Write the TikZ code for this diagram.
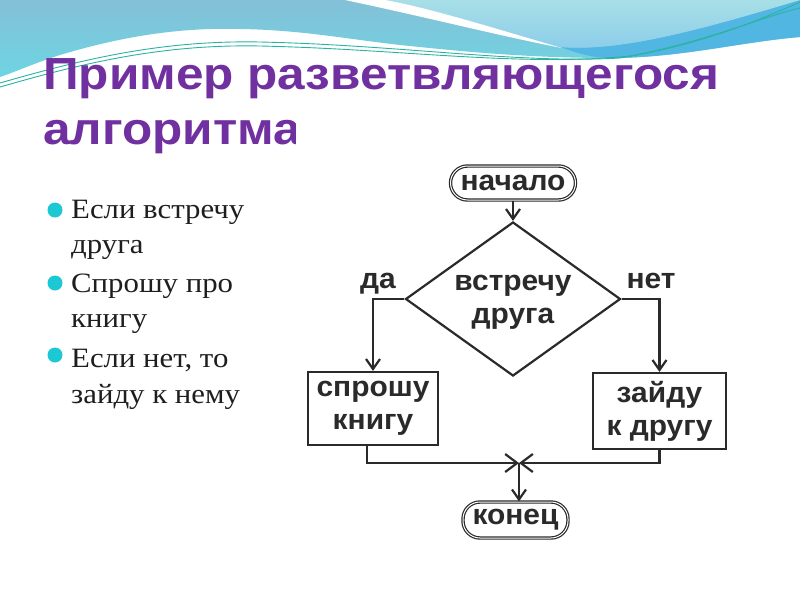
\documentclass[tikz,border=0pt]{standalone}
\usepackage{fontspec}
\setmainfont[FakeStretch=1.1]{Liberation Serif}
\newfontfamily\titlefont[FakeStretch=1.1]{Liberation Sans}
\newfontfamily\flowfont[FakeStretch=1.05]{Liberation Sans}
\usetikzlibrary{shapes.geometric,arrows.meta}
\definecolor{titlepurple}{HTML}{7030A0}
\definecolor{bulletc}{HTML}{1CC8D4}
\definecolor{bluetop}{HTML}{84C0D8}
\definecolor{bluebot}{HTML}{6DD5E2}
\definecolor{lighttop}{HTML}{A8DFE7}
\definecolor{lightbot}{HTML}{8ACCEA}
\definecolor{darkband}{HTML}{52B6E2}
\definecolor{tealline}{HTML}{2AB3A2}
\definecolor{fcgray}{HTML}{2A2A2A}
\definecolor{bodytext}{HTML}{1E1E1E}
\tikzset{
  titletext/.style={anchor=base west, inner sep=0, text=titlepurple,
    font=\titlefont\bfseries\fontsize{45}{50}\selectfont},
  bodyline/.style={anchor=base west, inner sep=0, text=bodytext,
    font=\fontsize{28}{34}\selectfont},
  bulletdot/.style={circle, fill=bulletc, minimum size=15pt, inner sep=0},
  flowtext/.style={text=fcgray, font=\flowfont\bfseries\fontsize{28.5}{33}\selectfont},
  fline/.style={draw=fcgray, line width=2.2pt},
  term/.style={flowtext, rectangle, rounded corners=17pt, draw=fcgray,
    line width=1.2pt, double=white, double distance=1pt, inner sep=0},
  proc/.style={flowtext, fline, rectangle, align=center, inner sep=0},
  conn/.style={fline, -{Straight Barb[length=10pt,width=14pt]}},
  joinarrow/.style={fline, -{Straight Barb[length=12pt,width=18pt]}},
}
\begin{document}
\begin{tikzpicture}[x=1pt,y=-1pt]
\useasboundingbox (0,0) rectangle (800,600);
\fill[white] (0,0) rectangle (800,600);
% top decoration
\shade[top color=bluetop, bottom color=bluebot]
  (0,0) -- (800,0) -- (800,37)
  .. controls (740,42) and (680,58) .. (610,58)
  .. controls (520,58) and (450,50) .. (400,45)
  .. controls (340,38) and (300,30) .. (240,29)
  .. controls (170,27) and (110,40) .. (60,55)
  .. controls (35,63) and (15,72) .. (0,77) -- cycle;
\fill[darkband]
  (560,47) .. controls (620,52) and (700,30) .. (800,0)
  -- (800,37) .. controls (740,42) and (680,58) .. (610,58)
  .. controls (590,58) and (575,52) .. (560,47) -- cycle;
\shade[top color=lighttop, bottom color=lightbot]
  (350,0) .. controls (430,14) and (500,33) .. (560,47)
  .. controls (620,52) and (700,30) .. (800,0) -- cycle;
\fill[white]
  (345,0) .. controls (430,18) and (500,36) .. (562,48)
  .. controls (500,30) and (430,8) .. (385,0) -- cycle;
\draw[tealline, line width=0.9pt]
  (0,83) .. controls (80,60) and (160,40) .. (260,42)
  .. controls (400,45) and (520,64) .. (620,58)
  .. controls (700,45) and (760,20) .. (800,2);
\draw[tealline, line width=0.9pt]
  (0,87) .. controls (80,64) and (160,44) .. (260,46)
  .. controls (400,49) and (520,67) .. (630,56)
  .. controls (705,42) and (765,16) .. (800,8);
% title
\node[titletext] (t1) at (43,89) {Пример разветвляющегося};
\node[titletext] (t2) at (43,144) {алгоритма};
% bullets
\node[bulletdot] (b1) at (55,210) {};
\node[bodyline] (l1) at (71,218) {Если встречу};
\node[bodyline] (l2) at (71,253) {друга};
\node[bulletdot] (b2) at (55,283) {};
\node[bodyline] (l3) at (71,292) {Спрошу про};
\node[bodyline] (l4) at (71,327) {книгу};
\node[bulletdot] (b3) at (55,355) {};
\node[bodyline] (l5) at (71,367) {Если нет, то};
\node[bodyline] (l6) at (71,403) {зайду к нему};
% flowchart picture background (clips the end of the title)
\fill[white] (296,108) rectangle (745,560);
% flowchart
\node[term, minimum width=125pt, minimum height=34pt] (start) at (513,183) {начало};
\node[diamond, fline, minimum width=215pt, minimum height=154pt, inner sep=0] (dec) at (513,299) {};
\node[flowtext, align=center, inner sep=0] (dect) at (513,302) {встречу\\друга};
\node[flowtext, anchor=base, inner sep=0] (yes) at (378,288) {да};
\node[flowtext, anchor=base, inner sep=0] (no) at (651,288) {нет};
\node[proc, minimum width=130pt, minimum height=73pt] (ask) at (373,408.5) {спрошу\\книгу};
\node[proc, minimum width=133pt, minimum height=76pt] (go) at (659.5,411) {зайду\\к другу};
\node[term, minimum width=105pt, minimum height=36pt] (fin) at (515.5,520) {конец};
\coordinate (j) at (519,463);
\draw[conn] (start) -- (dec);
\draw[conn] (dec.west) -| (ask.north);
\draw[conn] (dec.east) -| (go.north);
\draw[joinarrow] ([xshift=-6pt]ask.south) |- (j);
\draw[joinarrow] (go.south) |- (j);
\draw[conn] (j) -- (j |- fin.north);
\end{tikzpicture}
\end{document}
